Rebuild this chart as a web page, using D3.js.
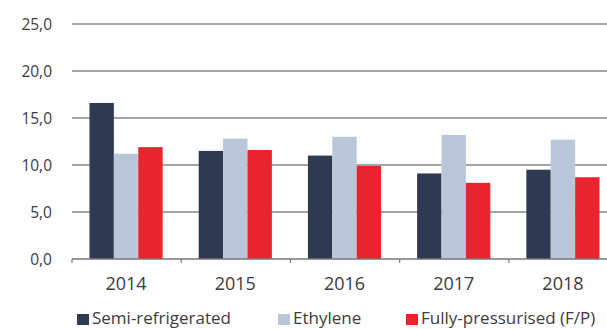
<!DOCTYPE html>
<html>
<head>
<meta charset="utf-8">
<script src="https://cdn.jsdelivr.net/npm/d3@7"></script>
<style>
  html, body { margin: 0; padding: 0; background: #fff; }
  svg { display: block; }
  text { font-family: "Open Sans", "Noto Sans", sans-serif; fill: #3c3c3c; }
</style>
</head>
<body>
<svg id="chart" width="607" height="329"></svg>
<script>
// Fleet figures per year and segment
const years = ["2014", "2015", "2016", "2017", "2018"];
const seriesNames = ["Semi-refrigerated", "Ethylene", "Fully-pressurised (F/P)"];
const semiRefrigerated = [16.6, 11.5, 11.0, 9.1, 9.5];
const ethylene = [11.2, 12.8, 13.0, 13.2, 12.7];
const fullyPressurised = [11.9, 11.6, 9.9, 8.1, 8.7];
const yTicks = [0, 5, 10, 15, 20, 25];
const colors = ["#2d3a51", "#bac7d9", "#e8252f"];

const seriesValues = [semiRefrigerated, ethylene, fullyPressurised];

const svg = d3.select("#chart");

const x0 = d3.scaleBand()
  .domain(years)
  .range([72, 617])
  .paddingInner(0.33)
  .paddingOuter(0.16);

const x1 = d3.scaleBand()
  .domain(seriesNames)
  .range([0, x0.bandwidth()]);

const y = d3.scaleLinear().domain([0, 25]).range([259, 24]);

const fmt = v => d3.format(".1f")(v).replace(".", ",");

// Horizontal gridlines
svg.append("g")
  .selectAll("line")
  .data(yTicks.filter(t => t > 0))
  .join("line")
  .attr("x1", 72).attr("x2", 607)
  .attr("y1", d => y(d)).attr("y2", d => y(d))
  .attr("stroke", "#878787")
  .attr("stroke-width", 1.7);

// Y labels
svg.append("g")
  .selectAll("text")
  .data(yTicks)
  .join("text")
  .attr("x", 52)
  .attr("y", d => y(d) + 5.5)
  .attr("text-anchor", "end")
  .style("font-size", "15.5px")
  .text(fmt);

// Bars
const groups = svg.append("g")
  .selectAll("g")
  .data(years)
  .join("g")
  .attr("transform", d => `translate(${x0(d)},0)`);

groups.selectAll("rect")
  .data((d, i) => seriesNames.map((s, j) => ({ s, v: seriesValues[j][i], c: colors[j] })))
  .join("rect")
  .attr("x", d => x1(d.s))
  .attr("width", x1.bandwidth())
  .attr("y", d => y(d.v))
  .attr("height", d => y(0) - y(d.v))
  .attr("fill", d => d.c);

// Category axis line and boundary ticks
const step = x0.step();
const boundaries = years.map((d, i) => 72 + i * step);
const axisG = svg.append("g");
axisG.append("line")
  .attr("x1", 72).attr("x2", 607)
  .attr("y1", y(0)).attr("y2", y(0))
  .attr("stroke", "#777")
  .attr("stroke-width", 1.7);
axisG.selectAll("line.tick")
  .data(boundaries)
  .join("line")
  .attr("class", "tick")
  .attr("x1", d => d).attr("x2", d => d)
  .attr("y1", y(0)).attr("y2", y(0) + 4)
  .attr("stroke", "#777")
  .attr("stroke-width", 1.2);

// Year labels
svg.append("g")
  .selectAll("text")
  .data(years)
  .join("text")
  .attr("x", d => x0(d) + x0.bandwidth() / 2)
  .attr("y", 290)
  .attr("text-anchor", "middle")
  .style("font-size", "18px")
  .text(d => d);

// Legend
const legendX = [77, 278, 406];
const legend = svg.append("g")
  .selectAll("g")
  .data(seriesNames)
  .join("g")
  .attr("transform", (d, i) => `translate(${legendX[i]},0)`);
legend.append("rect")
  .attr("x", 0).attr("y", 314)
  .attr("width", 12).attr("height", 11)
  .attr("fill", (d, i) => colors[i]);
legend.append("text")
  .attr("x", 15)
  .attr("y", 324)
  .style("font-size", "17px")
  .text(d => d);
</script>
</body>
</html>
